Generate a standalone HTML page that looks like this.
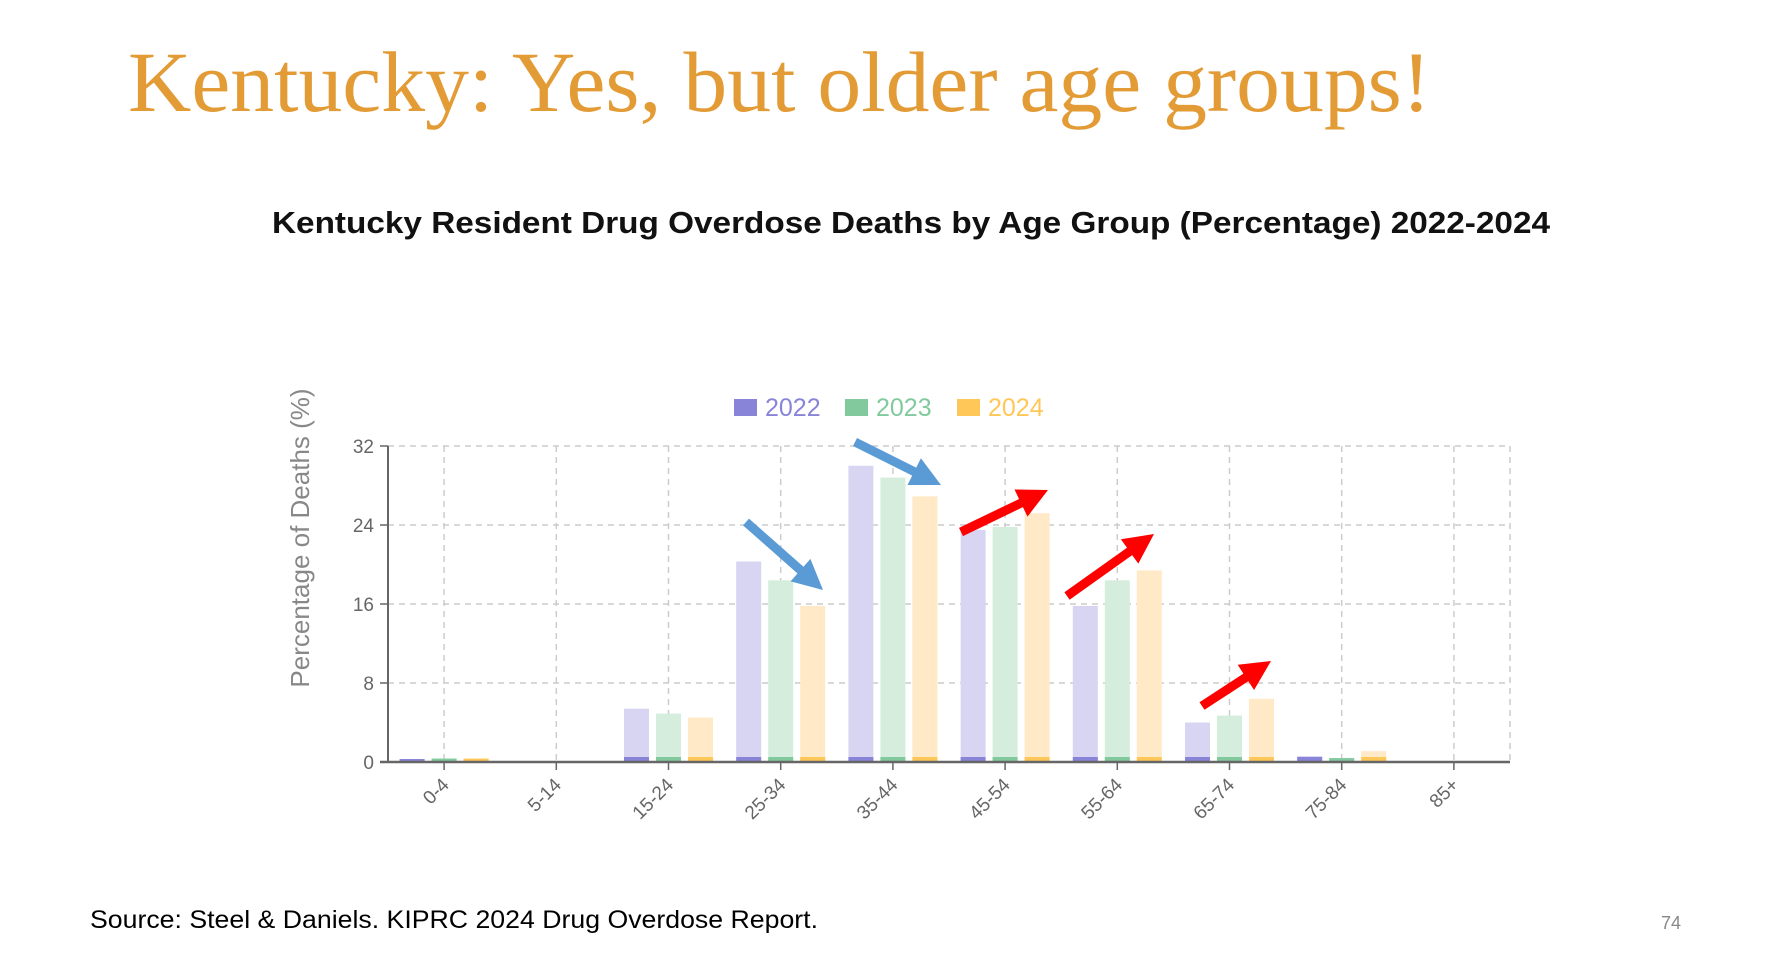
<!DOCTYPE html>
<html><head><meta charset="utf-8"><style>
html,body{margin:0;padding:0;background:#fff;}
svg{display:block;}
</style></head><body>
<svg id="slide" width="1790" height="956" viewBox="0 0 1790 956" xmlns="http://www.w3.org/2000/svg">
<text x="128" y="111" font-family="Liberation Serif, serif" font-size="86" fill="#E39B36" textLength="1303" lengthAdjust="spacingAndGlyphs">Kentucky: Yes, but older age groups!</text>
<text x="272" y="233" font-family="Liberation Sans, sans-serif" font-weight="bold" font-size="31" fill="#111" textLength="1278" lengthAdjust="spacingAndGlyphs">Kentucky Resident Drug Overdose Deaths by Age Group (Percentage) 2022-2024</text>
<g id="chart"></g>
<g id="arrows"></g>
<text x="90" y="928" font-family="Liberation Sans, sans-serif" font-size="25" fill="#000" textLength="728" lengthAdjust="spacingAndGlyphs">Source: Steel &amp; Daniels. KIPRC 2024 Drug Overdose Report.</text>
<text x="1661" y="929" font-family="Liberation Sans, sans-serif" font-size="18" fill="#888">74</text>
</svg>
<script>
const categories = ["0-4","5-14","15-24","25-34","35-44","45-54","55-64","65-74","75-84","85+"];
const series2022 = [0.3,0.1,5.4,20.3,30.0,23.5,15.8,4.0,0.6,0.1];
const series2023 = [0.35,0.1,4.9,18.4,28.8,23.8,18.4,4.7,0.4,0.1];
const series2024 = [0.35,0.1,4.5,15.8,26.9,25.2,19.4,6.4,1.1,0.1];
const seriesNames = ["2022","2023","2024"];
const yTicks = [0,8,16,24,32];

const NS="http://www.w3.org/2000/svg";
const chart=document.getElementById('chart');
function mk(tag,attrs,parent){const e=document.createElementNS(NS,tag);for(const k in attrs)e.setAttribute(k,attrs[k]);(parent||chart).appendChild(e);return e;}
const X0=388, X1=1510, Y0=762, Y1=446, YMAX=32;
const band=(X1-X0)/categories.length;
function y(v){return Y0-(v/YMAX)*(Y0-Y1);}
function xc(i){return X0+band*(i+0.5);}
const solid=["#8884d8","#82ca9d","#ffc658"];
const light=["#d7d5f2","#d5eddd","#ffe9c6"];
const allSeries=[series2022,series2023,series2024];

yTicks.forEach(t=>{
  if(t===0) return;
  const g=mk('line',{x1:X0,x2:X1,y1:y(t),y2:y(t),stroke:'#ccc','stroke-width':1.5,'stroke-dasharray':'6 5'});
  
  
});
categories.forEach((c,i)=>{
  const g=mk('line',{x1:xc(i),x2:xc(i),y1:Y1,y2:Y0,stroke:'#ccc','stroke-width':1.5,'stroke-dasharray':'6 5'});
  
  
});
const rb=mk('line',{x1:X1,x2:X1,y1:Y1,y2:Y0,stroke:'#ccc','stroke-width':1.5,'stroke-dasharray':'6 5'});



const bw=25, gap=7, groupW=bw*3+gap*2;
allSeries.forEach((s,si)=>{
  s.forEach((v,i)=>{
    const bx=xc(i)-groupW/2+si*(bw+gap);
    const top=y(v), h=Y0-top;
    const b=mk('rect',{x:bx,y:top,width:bw,height:h,fill:light[si]});
    
    
    const bh=Math.min(h,5);
    const base=mk('rect',{x:bx,y:Y0-bh,width:bw,height:bh,fill:solid[si]});
    
    
  });
});

const ya=mk('line',{x1:X0,x2:X0,y1:Y1,y2:Y0,stroke:'#666','stroke-width':2});


const xa=mk('line',{x1:X0-8,x2:X1,y1:Y0,y2:Y0,stroke:'#666','stroke-width':2.5});


yTicks.forEach(t=>{
  mk('line',{x1:X0-8,x2:X0,y1:y(t),y2:y(t),stroke:'#666','stroke-width':1.5});
  const l=mk('text',{x:X0-14,y:y(t)+7,'text-anchor':'end','font-family':'Liberation Sans, sans-serif','font-size':19,fill:'#666'});
  l.textContent=t;
  
  
});
categories.forEach((c,i)=>{
  mk('line',{x1:xc(i),x2:xc(i),y1:Y0,y2:Y0+8,stroke:'#666','stroke-width':1.5});
  const ax=xc(i)+6, ay=Y0+24;
  const l=mk('text',{x:ax,y:ay,'text-anchor':'end','font-family':'Liberation Sans, sans-serif','font-size':19,fill:'#666',transform:'rotate(-45 '+ax+' '+ay+')'});
  l.textContent=c;
  
  
});
const yt=mk('text',{x:0,y:0,'text-anchor':'middle','font-family':'Liberation Sans, sans-serif','font-size':26,fill:'#888',transform:'translate(309 538) rotate(-90)'});
yt.textContent='Percentage of Deaths (%)';



const legX=[734,845,957];
seriesNames.forEach((n,i)=>{
  const sq=mk('rect',{x:legX[i],y:399,width:23,height:17,fill:solid[i]});
  
  
  const t=mk('text',{x:legX[i]+31,y:416,'font-family':'Liberation Sans, sans-serif','font-size':25,fill:solid[i]});
  t.textContent=n;
  
  
});

const arrowsG=document.getElementById('arrows');
function arrow(x1,y1,x2,y2,color,name){
  const dx=x2-x1, dy=y2-y1, L=Math.hypot(dx,dy), ux=dx/L, uy=dy/L, px=-uy, py=ux;
  const hl=30, hw=15, sw=4.5;
  const bx=x2-ux*hl, by=y2-uy*hl;
  const pts=[[x1+px*sw,y1+py*sw],[bx+px*sw,by+py*sw],[bx+px*hw,by+py*hw],[x2,y2],[bx-px*hw,by-py*hw],[bx-px*sw,by-py*sw],[x1-px*sw,y1-py*sw]];
  const p=mk('polygon',{points:pts.map(q=>q[0].toFixed(1)+','+q[1].toFixed(1)).join(' '),fill:color},arrowsG);
  
  
}
arrow(746,522,823,590,'#5B9BD5','blue-arrow-25-34');
arrow(855,442,941,485,'#5B9BD5','blue-arrow-35-44');
arrow(961,532,1048,490,'#FF0000','red-arrow-45-54');
arrow(1067,596,1154,534,'#FF0000','red-arrow-55-64');
arrow(1202,706,1271,661,'#FF0000','red-arrow-65-74');
</script>
</body></html>
